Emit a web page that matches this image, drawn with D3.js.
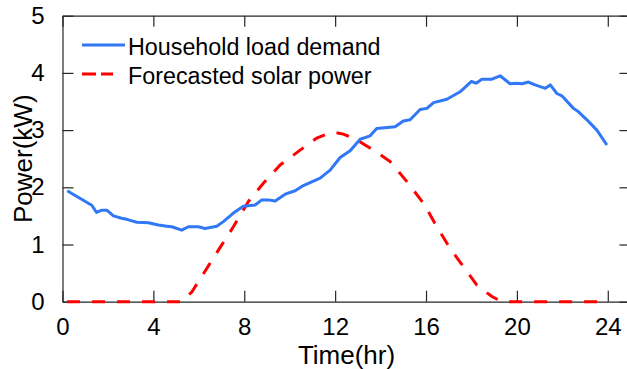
<!DOCTYPE html>
<html>
<head>
<meta charset="utf-8">
<script src="https://cdn.jsdelivr.net/npm/d3@7"></script>
<style>
  body { margin: 0; background: #fff; }
  text { font-family: "Liberation Sans", Arial, sans-serif; fill: #000; }
</style>
</head>
<body>
<div id="chart"></div>
<script>
// Household load
const loadTime = [0.21, 0.5, 0.8, 1.14, 1.28, 1.5, 1.73, 1.95, 2.24, 2.6, 2.83, 3.27, 3.78, 4.22, 4.59, 4.81,
  5.25, 5.54, 5.98, 6.27, 6.79, 7.08, 7.52, 7.96, 8.48, 8.77, 9.06, 9.36, 9.8, 10.24, 10.6, 11.34, 11.78,
  12.22, 12.66, 13.1, 13.54, 13.83, 14.64, 15.0, 15.3, 15.74, 16.04, 16.33, 16.92, 17.5, 18.0, 18.2, 18.46,
  18.9, 19.26, 19.7, 20.0, 20.22, 20.51, 20.8, 21.25, 21.47, 21.76, 21.98, 22.49, 22.71, 23.08, 23.52, 23.96];
const loadPower = [1.94, 1.87, 1.80, 1.72, 1.69, 1.56, 1.60, 1.60, 1.50, 1.46, 1.44, 1.39, 1.38, 1.34, 1.32, 1.31,
  1.25, 1.31, 1.31, 1.28, 1.32, 1.40, 1.55, 1.67, 1.69, 1.78, 1.78, 1.76, 1.88, 1.94, 2.03, 2.16, 2.30,
  2.52, 2.64, 2.84, 2.90, 3.03, 3.06, 3.16, 3.18, 3.36, 3.38, 3.48, 3.54, 3.67, 3.85, 3.82, 3.89,
  3.89, 3.95, 3.81, 3.82, 3.81, 3.84, 3.79, 3.73, 3.79, 3.64, 3.60, 3.38, 3.32, 3.18, 3.00, 2.74];

// Forecasted solar
const solarTime = [0.2, 2, 4, 5.25, 5.69, 6.35, 6.94, 7.52, 8.18, 8.84, 9.58, 10.46, 11.19, 11.7, 12.0, 12.36,
  12.95, 13.69, 14.42, 15.16, 15.89, 16.48, 17.06, 17.65, 18.24, 18.9, 19.34, 22, 24];
const solarPower = [0, 0, 0, 0, 0.17, 0.58, 0.95, 1.31, 1.75, 2.07, 2.39, 2.65, 2.86, 2.94, 2.96, 2.93,
  2.83, 2.65, 2.45, 2.10, 1.72, 1.31, 0.93, 0.61, 0.29, 0.09, 0, 0, 0];

const xTicks = [0, 4, 8, 12, 16, 20, 24];
const yTicks = [0, 1, 2, 3, 4, 5];
const seriesNames = ["Household load demand", "Forecasted solar power"];

const svgWidth = 627, svgHeight = 369;
const margin = { top: 15.7, left: 62.5 };
const chartWidth = 568;
const chartHeight = 286;

const svg = d3.select("#chart").append("svg")
  .attr("width", svgWidth)
  .attr("height", svgHeight);

const g = svg.append("g")
  .attr("transform", `translate(${margin.left}, ${margin.top})`);

const x = d3.scaleLinear().domain([0, 25]).range([0, chartWidth]);
const y = d3.scaleLinear().domain([0, 5]).range([chartHeight, 0]);

const axisColor = "#262626";

// axes box with inward ticks on all sides
const axBottom = g.append("g").attr("transform", `translate(0,${chartHeight})`)
  .call(d3.axisBottom(x).tickValues(xTicks).tickFormat(d3.format("d")).tickSizeInner(-11).tickSizeOuter(0).tickPadding(16));
const axTop = g.append("g")
  .call(d3.axisTop(x).tickValues(xTicks).tickSizeInner(-11).tickSizeOuter(0).tickFormat(""));
const axLeft = g.append("g")
  .call(d3.axisLeft(y).tickValues(yTicks).tickFormat(d3.format("d")).tickSizeInner(-11).tickSizeOuter(0).tickPadding(18));
const axRight = g.append("g").attr("transform", `translate(${chartWidth},0)`)
  .call(d3.axisRight(y).tickValues(yTicks).tickSizeInner(-11).tickSizeOuter(0).tickFormat(""));

[axBottom, axTop, axLeft, axRight].forEach(a => {
  a.selectAll("path, line").attr("stroke", axisColor).attr("stroke-width", 1.2);
  a.selectAll("text").attr("font-size", 24).attr("font-family", "Liberation Sans, Arial, sans-serif").attr("fill", "#000");
});
axBottom.selectAll("text").attr("dy", "0.71em");

const line = d3.line().x(d => x(d[0])).y(d => y(d[1]));

g.append("path")
  .datum(d3.zip(solarTime, solarPower))
  .attr("d", line)
  .attr("fill", "none")
  .attr("stroke", "#ff0000")
  .attr("stroke-width", 3)
  .attr("stroke-dasharray", "13,12");

g.append("path")
  .datum(d3.zip(loadTime, loadPower))
  .attr("d", line)
  .attr("fill", "none")
  .attr("stroke", "#3078f5")
  .attr("stroke-width", 3)
  .attr("stroke-linejoin", "round");

// legend
const legend = svg.append("g");
legend.append("line")
  .attr("x1", 82).attr("x2", 125).attr("y1", 45).attr("y2", 45)
  .attr("stroke", "#3078f5").attr("stroke-width", 3);
legend.append("line")
  .attr("x1", 82).attr("x2", 125).attr("y1", 74).attr("y2", 74)
  .attr("stroke", "#ff0000").attr("stroke-width", 3)
  .attr("stroke-dasharray", "14,5,12,20");
legend.selectAll("text.leg")
  .data(seriesNames)
  .enter().append("text")
  .attr("class", "leg")
  .attr("x", 128)
  .attr("y", (d, i) => 54.5 + i * 29)
  .attr("font-size", 23.3)
  .text(d => d);

// axis labels
svg.append("text")
  .attr("x", margin.left + chartWidth / 2)
  .attr("y", 364)
  .attr("text-anchor", "middle")
  .attr("font-size", 26)
  .text("Time(hr)");

svg.append("text")
  .attr("transform", `translate(32, ${margin.top + chartHeight / 2}) rotate(-90)`)
  .attr("text-anchor", "middle")
  .attr("font-size", 26)
  .text("Power(kW)");
</script>
</body>
</html>
